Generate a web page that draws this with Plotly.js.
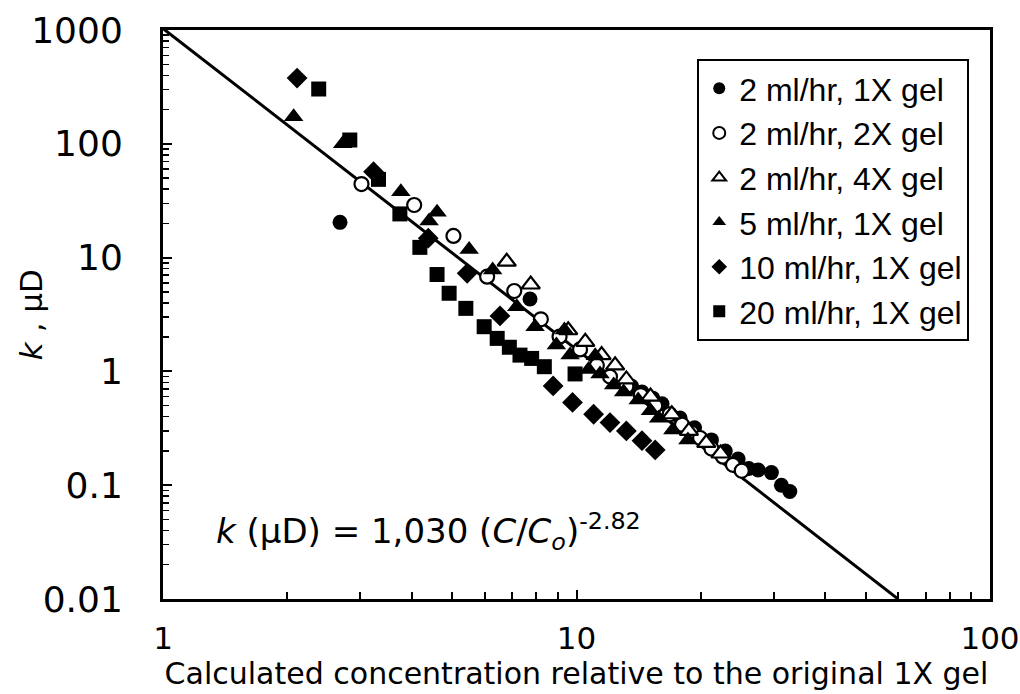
<!DOCTYPE html>
<html>
<head>
<meta charset="utf-8">
<script src="https://cdn.plot.ly/plotly-3.0.1.min.js"></script>
<style>html,body{margin:0;padding:0;background:#fff;}#chart{width:1020px;height:694px;}</style>
</head>
<body>
<div id="chart"></div>
<script>
// ---- data ----
const seriesNames = ["2 ml/hr, 1X gel", "2 ml/hr, 2X gel", "2 ml/hr, 4X gel", "5 ml/hr, 1X gel", "10 ml/hr, 1X gel", "20 ml/hr, 1X gel"];

const r2g1_x = [2.68, 7.72, 13.6, 14.4, 15.3, 16.1, 17.8, 19.3, 21.2, 22.9, 24.6, 26.1, 27.5, 29.6, 31.3, 32.8];
const r2g1_y = [20.4, 4.33, 0.74, 0.66, 0.58, 0.52, 0.39, 0.32, 0.25, 0.20, 0.17, 0.14, 0.136, 0.129, 0.100, 0.088];

const r2g2_x = [3.02, 4.05, 5.04, 6.08, 7.07, 8.2, 9.1, 10.2, 11.2, 12.05, 13.2, 14.3, 15.5, 16.8, 18.0, 19.0, 19.9, 21.2, 22.6, 23.9, 25.1];
const r2g2_y = [44.3, 29, 15.5, 6.8, 5.09, 2.87, 2.02, 1.56, 1.13, 0.90, 0.74, 0.62, 0.50, 0.42, 0.34, 0.29, 0.26, 0.21, 0.178, 0.151, 0.134];

const r2g4_x = [6.78, 7.75, 9.55, 10.5, 11.5, 12.4, 13.2, 15.1, 17.0, 18.7, 20.6, 22.3];
const r2g4_y = [9.2, 5.8, 2.3, 1.82, 1.39, 1.13, 0.85, 0.60, 0.42, 0.30, 0.235, 0.19];

const r5g1_x = [2.07, 2.72, 3.76, 4.4, 4.6, 5.5, 6.27, 7.17, 7.94, 8.94, 9.35, 9.65, 10.7, 11.1, 11.4, 12.3, 13.0, 14.1, 15.1, 15.8, 17.1, 18.6];
const r5g1_y = [173, 100, 37.9, 21, 25, 11.8, 7.8, 3.7, 2.47, 1.71, 2.31, 1.39, 1.04, 1.37, 0.95, 0.76, 0.66, 0.56, 0.45, 0.387, 0.305, 0.25];

const r10g1_x = [2.11, 3.23, 4.38, 5.44, 6.53, 8.78, 9.78, 11.0, 12.05, 13.2, 14.4, 15.5];
const r10g1_y = [378, 56.9, 14.8, 7.28, 3.07, 0.745, 0.534, 0.42, 0.355, 0.30, 0.246, 0.204];

const r20g1_x = [2.38, 2.83, 3.32, 3.74, 4.18, 4.6, 4.92, 5.4, 5.98, 6.43, 6.88, 7.3, 7.79, 8.36, 9.92];
const r20g1_y = [303, 108, 48.7, 24.2, 12.3, 7.1, 4.86, 3.58, 2.47, 1.95, 1.63, 1.39, 1.30, 1.10, 0.95];

// power-law fit shown on the chart: k = fitA * (C/Co)^fitB
const fitA = 1030;
const fitB = -2.82;
const fitXStart = 1;
const fitXEnd = 60;

const yTickVals = [0.01, 0.1, 1, 10, 100, 1000];
const yTickText = ["0.01", "0.1", "1", "10", "100", "1000"];
const xTickVals = [1, 10, 100];
const xTickText = ["1", "10", "100"];

const xTitle = "Calculated concentration relative to the original 1X gel";
const yTitle = "<i>k</i> , μD";
const fitLabel = "<i>k</i> (μD) = 1,030 (<i>C</i>/<i>C</i><sub><i>o</i></sub>)<sup>-2.82</sup>";

// ---- build traces ----
const fitX = [];
const nFit = 60;
for (let i = 0; i <= nFit; i++) {
  fitX.push(fitXStart * Math.pow(fitXEnd / fitXStart, i / nFit));
}
const fitY = fitX.map(v => fitA * Math.pow(v, fitB));

const FONT = "DejaVu Sans, Liberation Sans, sans-serif";
const LFONT = "Liberation Sans, Arial, sans-serif";

function pts(x, y, name, symbol, fill, size) {
  return {
    x: x, y: y, name: name, type: "scatter", mode: "markers",
    marker: {symbol: symbol, size: size, color: fill, line: {color: "black", width: fill === "white" ? 2.2 : 0}},
    cliponaxis: false
  };
}

const traces = [
  {x: fitX, y: fitY, type: "scatter", mode: "lines", line: {color: "black", width: 3}, showlegend: false, hoverinfo: "skip"},
  pts(r2g1_x, r2g1_y, seriesNames[0], "circle", "black", 15),
  pts(r2g2_x, r2g2_y, seriesNames[1], "circle", "white", 14),
  pts(r2g4_x, r2g4_y, seriesNames[2], "triangle-up", "white", 16),
  pts(r5g1_x, r5g1_y, seriesNames[3], "triangle-up", "black", 17),
  pts(r10g1_x, r10g1_y, seriesNames[4], "diamond", "black", 16),
  pts(r20g1_x, r20g1_y, seriesNames[5], "square", "black", 15)
];

const layout = {
  width: 1020, height: 694,
  margin: {l: 163, r: 30, t: 30, b: 95},
  paper_bgcolor: "white", plot_bgcolor: "white",
  font: {family: FONT, color: "black", size: 30},
  showlegend: true,
  xaxis: {
    type: "log", range: [0, 2],
    tickvals: xTickVals, ticktext: xTickText,
    ticks: "inside", ticklen: 9, tickwidth: 2, tickcolor: "black",
    minor: {dtick: "D1", ticks: "inside", ticklen: 7, tickwidth: 2, tickcolor: "black", showgrid: false},
    showgrid: false, zeroline: false,
    showline: true, linecolor: "black", linewidth: 3, mirror: true,
    tickfont: {size: 31, family: FONT},
    ticklabelstandoff: 10,
    title: {text: xTitle, font: {size: 30, family: FONT}, standoff: 4}
  },
  yaxis: {
    type: "log", range: [-2, 3],
    tickvals: yTickVals, ticktext: yTickText,
    ticks: "inside", ticklen: 9, tickwidth: 2, tickcolor: "black",
    minor: {dtick: "D1", ticks: "inside", ticklen: 6, tickwidth: 1.5, tickcolor: "black", showgrid: false},
    showgrid: false, zeroline: false,
    showline: true, linecolor: "black", linewidth: 3, mirror: true,
    tickfont: {size: 36, family: FONT},
    ticklabelstandoff: 30
  },
  legend: {
    x: 0.646, y: 0.949, xanchor: "left", yanchor: "top",
    bgcolor: "white", bordercolor: "black", borderwidth: 2,
    font: {size: 32, family: LFONT},
    itemsizing: "constant", itemwidth: 30,
    tracegroupgap: 0
  },
  annotations: [
    {
      xref: "paper", yref: "paper", x: 0.062, y: 0.118, xanchor: "left", yanchor: "middle",
      text: fitLabel, showarrow: false, font: {size: 34, family: FONT, color: "black"}
    },
    {
      xref: "paper", yref: "paper", x: -0.16, y: 0.5, xanchor: "center", yanchor: "middle",
      textangle: -90, text: yTitle, showarrow: false, font: {size: 31, family: FONT, color: "black"}
    }
  ]
};

Plotly.newPlot("chart", traces, layout, {displayModeBar: false, staticPlot: true});
</script>
</body>
</html>
